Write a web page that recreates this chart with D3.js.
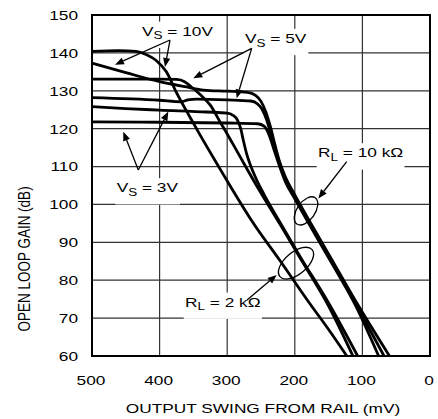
<!DOCTYPE html>
<html><head><meta charset="utf-8">
<script src="https://cdn.jsdelivr.net/npm/d3@7"></script>
<style>
html,body{margin:0;padding:0;background:#fff;}
svg{display:block;}
text{font-family:"Liberation Sans",Arial,Helvetica,sans-serif;fill:#000;}
</style></head>
<body>
<svg id="chart" width="438" height="419"></svg>
<script>
// ---- data (x = output swing from rail, mV ; y = open loop gain, dB) ----
const xTicks = [500, 400, 300, 200, 100, 0];
const yTicks = [150, 140, 130, 120, 110, 100, 90, 80, 70, 60];
const xTitle = "OUTPUT SWING FROM RAIL (mV)";
const yTitle = "OPEN LOOP GAIN (dB)";

const vs10_rl2k  = [[500,140.4],[460,140.6],[435,140.4],[420,139.6],[405,138],[390,135],[375,129.5],[355,123],[340,118.3],[314,110.4],[296,105],[263,95.5],[222,85.2],[180,74.4],[150,67],[123,60]];
const vs10_rl10k = [[500,137.3],[450,134.8],[400,132.4],[360,131],[335,130.2],[300,129.9],[270,129.6],[258,128.8],[250,127.2],[243,124.5],[236,120.5],[229,115.5],[222,111],[214,107.3],[200,102.5],[182,96.8],[148,86.3],[110,74.5],[60,60]];
const vs5_rl2k   = [[500,133.1],[400,133.1],[375,133],[363,132.4],[353,131],[340,129],[325,126.2],[310,121.6],[300,118.6],[286,114.2],[254,104.2],[222,94.8],[193,86.1],[150,73.2],[114,60]];
const vs5_rl10k  = [[500,128.2],[400,127.5],[368,127.1],[358,127.6],[345,127.8],[300,127.6],[265,127.3],[255,126.5],[248,125],[242,122.5],[236,119],[229,114.5],[222,110.5],[214,106.7],[200,102],[182,96.3],[148,85.8],[110,73.8],[68,60]];
const vs3_rl2k   = [[500,125.8],[450,125.3],[400,124.9],[330,124.4],[300,124.1],[292,123.6],[285,122.3],[280,120],[276,116.8],[271,113.2],[264,109.6],[256,106.3],[246,102.8],[222,95.3],[193,86.5],[150,74],[107,60]];
const vs3_rl10k  = [[500,121.8],[400,121.7],[300,121.5],[255,121.3],[245,120.6],[240,119.2],[235,116.8],[229,113.5],[222,109.8],[214,106],[200,101.5],[182,95.8],[148,85.3],[110,73.3],[76,60]];
const seriesList = [vs10_rl2k, vs10_rl10k, vs5_rl2k, vs5_rl10k, vs3_rl2k, vs3_rl10k];

// annotations (positions in data units)
const labels = [
  {main:"V", sub:"S", rest:" = 10V", at:[426,144.5], arrows:[[[384.6,143.4],[466,136.9]],[[384.6,143.4],[392,136.3]]]},
  {main:"V", sub:"S", rest:" = 5V",  at:[273.7,142.6], arrows:[[[263.8,141.2],[350.2,133.3]],[[263.8,141.2],[286,128]]]},
  {main:"V", sub:"S", rest:" = 3V",  at:[463.5,103.2], arrows:[[[431.5,109.1],[453.7,119.2]],[[431.5,109.1],[387.1,124.5]]]},
  {main:"R", sub:"L", rest:" = 10 kΩ", at:[165.7,112.4], arrows:[[[123.2,111.3],[165.2,101.6]]]},
  {main:"R", sub:"L", rest:" = 2 kΩ",  at:[362.4,73.0], arrows:[[[270.7,74.8],[226.8,81.4]]]}
];
const ellipses = [{c:[183.4,98.3], rx:16, ry:9, rot:-55}, {c:[198.2,84.5], rx:21, ry:11, rot:-40}];

// ---- drawing ----
const svg = d3.select("#chart");
const L = 92, R = 430, T = 15, B = 356;
const SX = 1.28, FS = 13.5;
const x = d3.scaleLinear().domain([500, 0]).range([L, R]);
const y = d3.scaleLinear().domain([60, 150]).range([B, T]);

// grid
svg.append("g").selectAll("line.v").data(xTicks.slice(1, -1)).join("line")
  .attr("x1", d => x(d)).attr("x2", d => x(d)).attr("y1", T).attr("y2", B)
  .attr("stroke", "#333").attr("stroke-width", 1.2);
svg.append("g").selectAll("line.h").data(yTicks.slice(1, -1)).join("line")
  .attr("y1", d => y(d)).attr("y2", d => y(d)).attr("x1", L).attr("x2", R)
  .attr("stroke", "#333").attr("stroke-width", 1.2);

// tick labels
svg.append("g").selectAll("g").data(yTicks).join("g")
  .attr("transform", d => `translate(78,${y(d)}) scale(${SX},1)`)
  .append("text").attr("text-anchor", "end").attr("dy", "0.36em")
  .style("font-size", FS + "px").text(d => d);
svg.append("g").selectAll("g").data(xTicks).join("g")
  .attr("transform", d => `translate(${x(d) - 1},385) scale(${SX},1)`)
  .append("text").attr("text-anchor", "middle")
  .style("font-size", FS + "px").text(d => d);

// axis titles
svg.append("g").attr("transform", `translate(263,413) scale(${SX},1)`)
  .append("text").attr("text-anchor", "middle").style("font-size", FS + "px").text(xTitle);
svg.append("g").attr("transform", `translate(29.5,259) scale(${SX},1) rotate(-90)`)
  .append("text").attr("text-anchor", "middle").style("font-size", FS + "px").text(yTitle);

// label boxes + texts (white background hides grid)
const labG = svg.append("g");
labels.forEach(lb => {
  const g = labG.append("g").attr("transform", `translate(${x(lb.at[0])},${y(lb.at[1])}) scale(${SX},1)`);
  const rect = g.append("rect").attr("fill", "#fff");
  const t = g.append("text").style("font-size", FS + "px");
  t.append("tspan").text(lb.main);
  t.append("tspan").attr("dy", 3.5).style("font-size", (FS * 0.78) + "px").text(lb.sub);
  t.append("tspan").attr("dy", -3.5).text(lb.rest);
  const bb = t.node().getBBox();
  rect.attr("x", bb.x - 1).attr("y", bb.y - 2).attr("width", bb.width + 2).attr("height", bb.height + 8);
});

// curves
const line = d3.line().x(d => x(d[0])).y(d => y(d[1])).curve(d3.curveMonotoneX);
svg.append("g").selectAll("path").data(seriesList).join("path")
  .attr("d", line).attr("fill", "none").attr("stroke", "#000")
  .attr("stroke-width", 2.8).attr("stroke-linejoin", "round");

// ellipses
svg.append("g").selectAll("ellipse").data(ellipses).join("ellipse")
  .attr("transform", d => `translate(${x(d.c[0])},${y(d.c[1])}) rotate(${d.rot})`)
  .attr("rx", d => d.rx).attr("ry", d => d.ry)
  .attr("fill", "none").attr("stroke", "#000").attr("stroke-width", 1.3);

// arrows
const arrG = svg.append("g");
labels.forEach(lb => lb.arrows.forEach(a => {
  const x1 = x(a[0][0]), y1 = y(a[0][1]), x2 = x(a[1][0]), y2 = y(a[1][1]);
  const ang = Math.atan2(y2 - y1, x2 - x1);
  const hl = 9, hw = 3.6;
  const bx = x2 - hl * Math.cos(ang), by = y2 - hl * Math.sin(ang);
  arrG.append("line").attr("x1", x1).attr("y1", y1).attr("x2", bx).attr("y2", by)
    .attr("stroke", "#000").attr("stroke-width", 1.3);
  const px = -Math.sin(ang) * hw, py = Math.cos(ang) * hw;
  arrG.append("path").attr("d", `M${x2},${y2}L${bx + px},${by + py}L${bx - px},${by - py}Z`).attr("fill", "#000");
}));

// frame
svg.append("rect").attr("x", L).attr("y", T).attr("width", R - L).attr("height", B - T)
  .attr("fill", "none").attr("stroke", "#000").attr("stroke-width", 2);
</script>
</body></html>
